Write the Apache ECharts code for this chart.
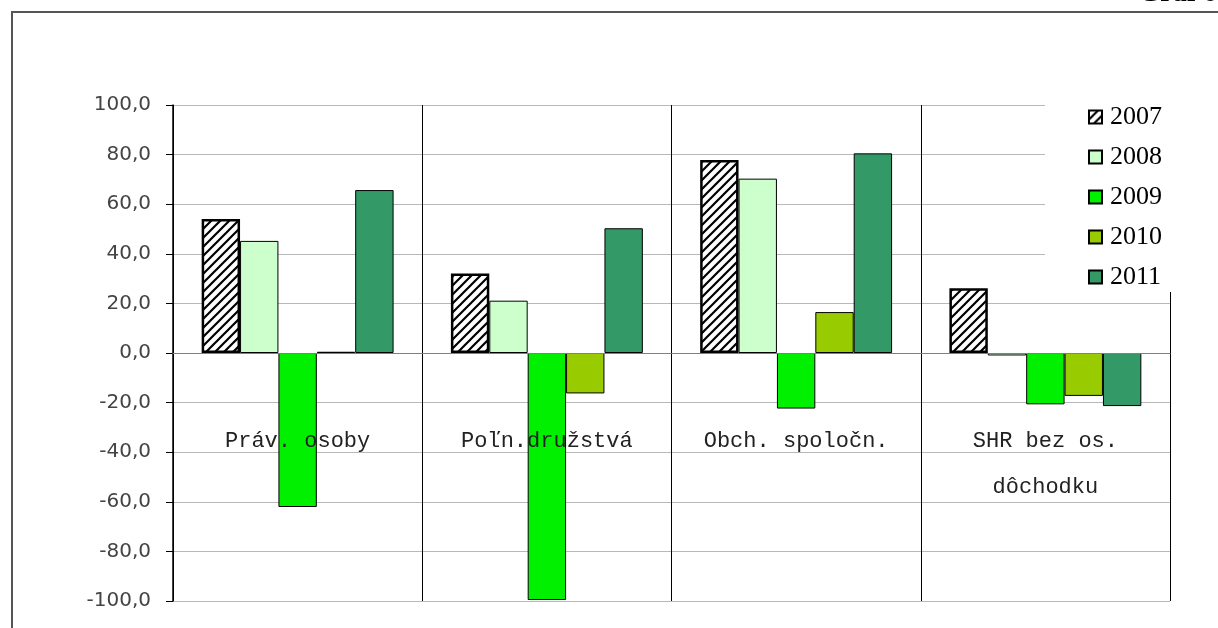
<!DOCTYPE html>
<html>
<head>
<meta charset="utf-8">
<script src="https://cdn.jsdelivr.net/npm/echarts@6/dist/echarts.min.js"></script>
<style>html,body{margin:0;padding:0;background:#fff}#c{width:1218px;height:628px}</style>
</head>
<body>
<div id="c"></div>
<script>
const categories = ['Práv. osoby', 'Poľn.družstvá', 'Obch. spoločn.', 'SHR bez os.\ndôchodku'];
const years = ['2007', '2008', '2009', '2010', '2011'];
const v2007 = [54.0, 32.1, 77.8, 26.1];
const v2008 = [45.2, 21.1, 70.3, -1.0];
const v2009 = [-62.1, -99.6, -22.4, -20.7];
const v2010 = [0.5, -16.3, 16.5, -17.3];
const v2011 = [65.7, 50.3, 80.5, -21.4];
const yTicks = {min: -100, max: 100, step: 20};

// hatch pattern for 2007
const pc = document.createElement('canvas');
pc.width = 9; pc.height = 9;
const g = pc.getContext('2d');
g.fillStyle = '#fff'; g.fillRect(0, 0, 9, 9);
g.strokeStyle = '#000'; g.lineWidth = 2.2;
g.beginPath();
g.moveTo(-1, 10); g.lineTo(10, -1);
g.moveTo(-5, 5); g.lineTo(5, -5);
g.moveTo(4, 14); g.lineTo(14, 4);
g.stroke();
const hatch = {image: pc, repeat: 'repeat'};

const colors = [hatch, '#ccffcc', '#00f000', '#99cc00', '#339966'];
const values = [v2007, v2008, v2009, v2010, v2011];

const chart = echarts.init(document.getElementById('c'));
chart.setOption({
  animation: false,
  backgroundColor: '#fff',
  grid: {left: 173, right: 48, top: 105, bottom: 27, containLabel: false, outerBoundsMode: 'none'},
  legend: {
    orient: 'vertical', left: 1083, top: 99, z: 6,
    icon: 'rect',
    itemWidth: 13, itemHeight: 13, itemGap: 14,
    data: years,
    textStyle: {fontFamily: 'Liberation Serif', fontSize: 26, color: '#000', lineHeight: 26, padding: [0, 0, 0, 3]}
  },
  graphic: [
    {type: 'rect', z: 5, shape: {x: 1045, y: 92, width: 180, height: 200}, style: {fill: '#fff'}},
    {type: 'rect', z: 7, shape: {x: 12, y: 12, width: 1230, height: 640}, style: {fill: null, stroke: '#555', lineWidth: 2}},
    {type: 'text', z: 7, x: 1217, y: 8, style: {text: 'Graf 6', fontFamily: 'Liberation Serif', fontWeight: 'bold', fontSize: 28, fill: '#000', align: 'right', verticalAlign: 'bottom'}}
  ],
  xAxis: {
    type: 'category', data: categories, z: 3,
    axisLine: {show: true, onZero: true, lineStyle: {color: '#808080', width: 1}},
    axisTick: {show: false},
    splitLine: {show: true, interval: 0, lineStyle: {color: '#000', width: 1}},
    axisLabel: {interval: 0, margin: -183, fontFamily: 'Liberation Mono', fontSize: 22, color: '#222', lineHeight: 46}
  },
  yAxis: {
    type: 'value', min: yTicks.min, max: yTicks.max, interval: yTicks.step,
    axisLine: {show: true, lineStyle: {color: '#000', width: 1.5}},
    axisTick: {show: true, length: 7, lineStyle: {color: '#000'}},
    splitLine: {show: true, lineStyle: {color: '#b8b8b8', width: 1}},
    axisLabel: {margin: 22, fontFamily: 'DejaVu Sans', fontSize: 20, color: '#444',
      formatter: v => v.toFixed(1).replace('.', ',')}
  },
  series: years.map((y, i) => ({
    name: y, type: 'bar', data: values[i],
    barGap: '0%', barCategoryGap: '23%',
    itemStyle: {color: colors[i], borderColor: '#000', borderWidth: i === 0 ? 2.5 : 1}
  }))
});
</script>
</body>
</html>
